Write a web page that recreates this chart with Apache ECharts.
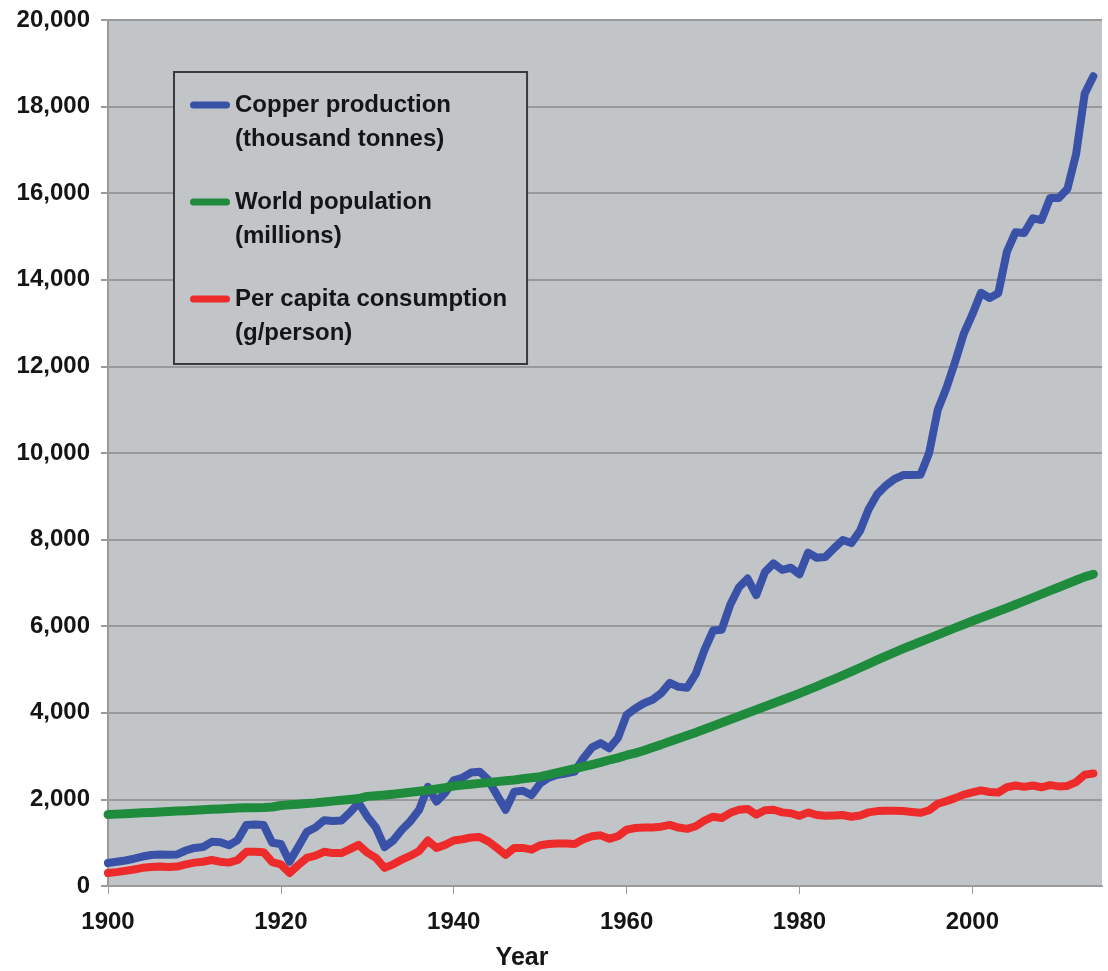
<!DOCTYPE html>
<html>
<head>
<meta charset="utf-8">
<script src="https://cdn.jsdelivr.net/npm/echarts@6/dist/echarts.min.js"></script>
<style>
html,body{margin:0;padding:0;background:#fff;}
#chart{width:1108px;height:971px;}
</style>
</head>
<body>
<div id="chart"></div>
<script>
// ---- data ----
var startYear = 1900;
var seriesNames = ['Copper production', 'World population', 'Per capita consumption'];
var seriesUnits = ['(thousand tonnes)', '(millions)', '(g/person)'];
var xTicks = [1900, 1920, 1940, 1960, 1980, 2000];

var copperProduction = [
  530, 560, 590, 630, 680, 716, 730, 720, 730, 820,
  880, 900, 1020, 1010, 940, 1060, 1410, 1420, 1410, 1000,
  970, 560, 900, 1250, 1350, 1520, 1500, 1510, 1700, 1920,
  1600, 1350, 900, 1050, 1300, 1500, 1760, 2290, 1950, 2150,
  2440, 2500, 2620, 2640, 2450, 2100, 1760, 2180, 2200, 2100,
  2370, 2500, 2570, 2600, 2640, 2950, 3200, 3300, 3180, 3420,
  3950, 4100, 4220, 4300, 4450, 4690, 4600, 4580, 4900, 5450,
  5900, 5920, 6500, 6900, 7100, 6720, 7250, 7450, 7300, 7350,
  7200, 7700, 7580, 7600, 7800, 7990, 7920, 8200, 8700, 9050,
  9250, 9400, 9490, 9490, 9500, 10000, 11000, 11500, 12100, 12750,
  13200, 13700, 13580, 13690, 14650, 15100, 15080, 15420, 15380, 15890,
  15890, 16100, 16900, 18300, 18700
];

var worldPopulation = [
  1650, 1660, 1670, 1680, 1690, 1700, 1710, 1720, 1730, 1740,
  1750, 1760, 1770, 1780, 1790, 1800, 1805, 1810, 1815, 1825,
  1860, 1875, 1890, 1905, 1920, 1940, 1960, 1980, 2000, 2020,
  2070, 2085, 2100, 2120, 2140, 2165, 2190, 2215, 2240, 2270,
  2310, 2330, 2350, 2370, 2390, 2410, 2430, 2450, 2475, 2500,
  2525, 2570, 2620, 2665, 2710, 2755, 2805, 2855, 2910, 2960,
  3020, 3070, 3130, 3200, 3265, 3335, 3405, 3475, 3545, 3620,
  3695, 3770, 3845, 3920, 3995, 4070, 4145, 4220, 4295, 4370,
  4450, 4530, 4610, 4695, 4780, 4865, 4950, 5040, 5130, 5220,
  5310, 5395, 5480, 5560, 5640, 5720, 5800, 5880, 5960, 6040,
  6120, 6195, 6270, 6345, 6420, 6500, 6580, 6660, 6740, 6820,
  6900, 6980, 7060, 7140, 7200
];

var perCapitaConsumption = [
  300, 320, 350, 380, 420, 440, 450, 440, 450, 500,
  540, 560, 600, 560, 540, 600, 790, 790, 780, 550,
  500, 300, 480, 650, 700, 790, 760, 760, 850, 950,
  770, 650, 420, 500, 610, 700, 810, 1050, 880, 950,
  1050, 1080, 1120, 1130, 1030, 880, 720, 880, 880, 840,
  940, 970, 980, 980, 970, 1080, 1150, 1170, 1090, 1150,
  1300, 1340, 1350, 1350, 1370, 1410, 1350, 1320, 1380, 1510,
  1600, 1570, 1690, 1760, 1780, 1650, 1750, 1760, 1700, 1680,
  1620, 1700, 1640, 1620, 1630, 1640, 1600, 1630, 1700, 1730,
  1740, 1740, 1730, 1710, 1690, 1750, 1900, 1960, 2030, 2110,
  2160, 2210, 2170, 2160, 2280, 2320, 2290, 2320, 2280, 2330,
  2300, 2310, 2400, 2570, 2600
];

var seriesColors = ['#3a51a8', '#1f8b3c', '#ee2b2b'];
var lineWidths = [8, 9, 8];

function pairs(vals) {
  var out = [];
  for (var i = 0; i < vals.length; i++) out.push([startYear + i, vals[i]]);
  return out;
}

var allValues = [copperProduction, worldPopulation, perCapitaConsumption];
var fontFam = '"Liberation Sans", Arial, sans-serif';

// legend icon: rounded bar aligned with first text line (bbox 40 x 68)
var legendIcon = 'path://M0,0M40,68M3.5,13.5L36.5,13.5A3.5,3.5 0 0 1 36.5,20.5L3.5,20.5A3.5,3.5 0 0 1 3.5,13.5Z';

var chart = echarts.init(document.getElementById('chart'), null, {renderer: 'canvas'});

var series = seriesNames.map(function (n, i) {
  return {
    name: n,
    type: 'line',
    data: pairs(allValues[i]),
    symbol: 'none',
    showSymbol: false,
    smooth: false,
    color: seriesColors[i],
    lineStyle: {width: lineWidths[i], color: seriesColors[i], cap: 'round', join: 'round'},
    itemStyle: {color: seriesColors[i]},
    z: 2 + i
  };
});

chart.setOption({
  animation: false,
  backgroundColor: '#ffffff',
  grid: {
    left: 108, right: 6, top: 20, bottom: 85,
    show: true, backgroundColor: '#c1c5c8', borderWidth: 0,
    containLabel: false, outerBoundsMode: 'none'
  },
  legend: {
    orient: 'vertical',
    left: 174, top: 72,
    padding: [16, 20, 14, 16],
    itemGap: 29,
    itemWidth: 40,
    itemHeight: 68,
    icon: legendIcon,
    backgroundColor: '#c1c5c8',
    borderColor: '#3a3a3a',
    borderWidth: 2,
    borderRadius: 0,
    selectedMode: false,
    data: seriesNames.map(function (n, i) {
      return {name: n, icon: legendIcon, itemStyle: {color: seriesColors[i]}};
    }),
    formatter: function (name) {
      var i = seriesNames.indexOf(name);
      return name + '\n' + seriesUnits[i];
    },
    textStyle: {
      fontFamily: fontFam, fontWeight: 'bold', fontSize: 24,
      color: '#151515', lineHeight: 34
    }
  },
  xAxis: {
    type: 'value',
    min: 1900, max: 2015,
    interval: 20,
    name: 'Year',
    nameLocation: 'middle',
    nameGap: 60,
    nameTextStyle: {
      fontFamily: fontFam, fontWeight: 'bold', fontSize: 25, color: '#151515',
      padding: [0, 166, 0, 0]
    },
    axisLine: {show: true, lineStyle: {color: '#9a9a9a', width: 2}},
    axisTick: {show: true, length: 8, customValues: xTicks, lineStyle: {color: '#9a9a9a', width: 1}},
    axisLabel: {
      customValues: xTicks,
      margin: 24,
      fontFamily: fontFam, fontWeight: 'bold', fontSize: 24, color: '#151515',
      formatter: function (v) { return String(v); }
    },
    splitLine: {show: false}
  },
  yAxis: {
    type: 'value',
    min: 0, max: 20000, interval: 2000,
    axisLine: {show: true, lineStyle: {color: '#9a9a9a', width: 2}},
    axisTick: {show: true, length: 7, lineStyle: {color: '#9a9a9a', width: 2}},
    axisLabel: {
      margin: 18,
      fontFamily: fontFam, fontWeight: 'bold', fontSize: 24, color: '#151515'
    },
    splitLine: {show: true, lineStyle: {color: '#999999', width: 2}}
  },
  series: series
});
</script>
</body>
</html>
